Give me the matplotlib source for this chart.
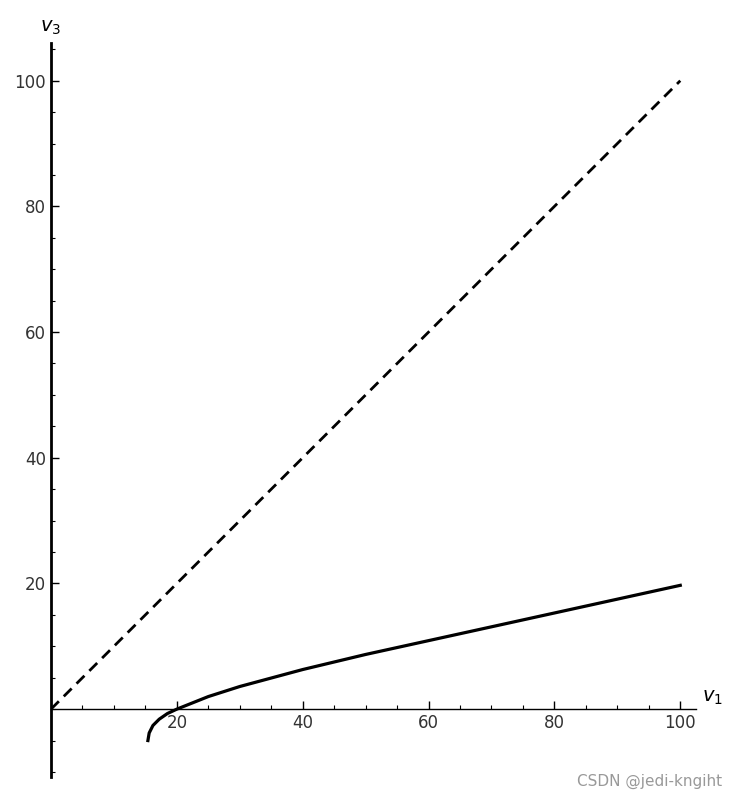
import numpy as np
import matplotlib.pyplot as plt
from matplotlib.ticker import MultipleLocator

# dashed reference line v3 = v1
line_v1 = [0, 100]
line_v3 = [0, 100]

# solid curve
curve_v1 = [15.4, 15.6, 16.2, 17.2, 18.5, 20, 25, 30, 40, 50, 60, 70, 80, 90, 100]
curve_v3 = [-5.0, -3.8, -2.6, -1.6, -0.7, 0.0, 2.0, 3.6, 6.3, 8.7, 10.9, 13.1, 15.3, 17.5, 19.7]

x_ticks = [20, 40, 60, 80, 100]
y_ticks = [20, 40, 60, 80, 100]

fig = plt.figure(figsize=(7.33, 7.99), dpi=100)
ax = fig.add_axes([51/733, 1 - 777/799, 645/733, 734/799])

ax.plot(line_v1, line_v3, color='black', lw=2, ls=(0, (4, 2.5)))
ax.plot(curve_v1, curve_v3, color='black', lw=2.3)

ax.set_xlim(0, 102.5)
ax.set_ylim(-10.8, 106)
ax.spines['left'].set_position(('data', 0))
ax.spines['bottom'].set_position(('data', 0))
ax.spines['top'].set_visible(False)
ax.spines['right'].set_visible(False)
ax.spines['left'].set_linewidth(2)
ax.spines['bottom'].set_linewidth(1)

ax.set_xticks(x_ticks)
ax.set_yticks(y_ticks)
ax.xaxis.set_minor_locator(MultipleLocator(5))
ax.yaxis.set_minor_locator(MultipleLocator(5))
ax.tick_params(which='major', direction='in', length=6, width=1, labelsize=12, labelcolor='#333333')
ax.tick_params(which='minor', direction='in', length=3, width=0.8)

ax.text(103.5, 0.3, r'$v_1$', fontsize=14, ha='left', va='bottom', clip_on=False)
ax.text(0, 107, r'$v_3$', fontsize=14, ha='center', va='bottom', clip_on=False)

fig.text(0.985, 0.012, 'CSDN @jedi-kngiht', ha='right', va='bottom', fontsize=11, color='#999999')

plt.savefig('out.png')
